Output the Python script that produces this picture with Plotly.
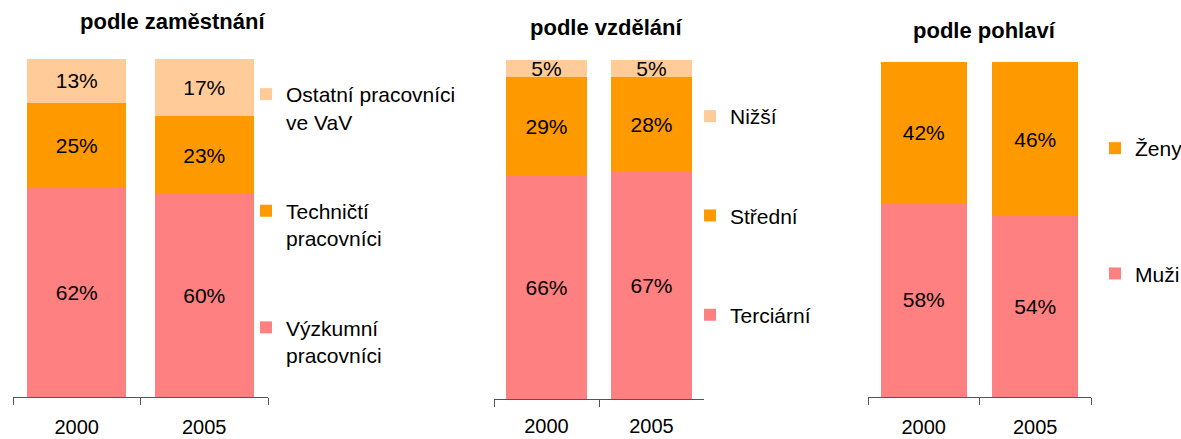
import plotly.graph_objects as go

years = ["2000", "2005"]

# panel 1: podle zaměstnání
zam_names = ["Výzkumní<br>pracovníci", "Techničtí<br>pracovníci", "Ostatní pracovníci<br>ve VaV"]
zam_vyzkumni = [62, 60]
zam_technicti = [25, 23]
zam_ostatni = [13, 17]

# panel 2: podle vzdělání
vzd_names = ["Terciární", "Střední", "Nižší"]
vzd_terciarni = [66, 67]
vzd_stredni = [29, 28]
vzd_nizsi = [5, 5]

# panel 3: podle pohlaví
poh_names = ["Muži", "Ženy"]
poh_muzi = [58, 54]
poh_zeny = [42, 46]

titles = ["podle zaměstnání", "podle vzdělání", "podle pohlaví"]

c_pink = "#FF8080"
c_orange = "#FF9900"
c_peach = "#FFCC99"

W, H = 1181, 439
FONT = "Liberation Sans, Arial, sans-serif"

def px_x(p):
    return p / W

def px_y(p):
    return (H - p) / H

fig = go.Figure()

panels = [
    dict(xa="x", ya="y", leg="legend", width=0.78,
         series=[(zam_names[0], zam_vyzkumni, c_pink),
                 (zam_names[1], zam_technicti, c_orange),
                 (zam_names[2], zam_ostatni, c_peach)]),
    dict(xa="x2", ya="y2", leg="legend2", width=0.77,
         series=[(vzd_names[0], vzd_terciarni, c_pink),
                 (vzd_names[1], vzd_stredni, c_orange),
                 (vzd_names[2], vzd_nizsi, c_peach)]),
    dict(xa="x3", ya="y3", leg="legend3", width=0.77,
         series=[(poh_names[0], poh_muzi, c_pink),
                 (poh_names[1], poh_zeny, c_orange)]),
]

for pi, p in enumerate(panels):
    n = len(p["series"])
    for si, (name, vals, col) in enumerate(p["series"]):
        fig.add_trace(go.Bar(
            x=years, y=vals, name=name, marker_color=col, marker_line_width=0,
            width=p["width"], xaxis=p["xa"], yaxis=p["ya"], legend=p["leg"],
            legendgroup=f"g{pi}_{si}", legendrank=1000 + (n - si),
            text=[f"{v}%" for v in vals], textposition="inside",
            insidetextanchor="middle", textangle=0,
            textfont=dict(color="black", size=21, family=FONT),
            hoverinfo="skip",
        ))

axis_common = dict(
    type="category", showline=True, linecolor="#555555", linewidth=1,
    ticks="outside", tickson="boundaries", ticklen=7, tickcolor="#555555",
    tickfont=dict(size=20, color="black", family=FONT), showgrid=False,
    zeroline=False, fixedrange=True, ticklabelstandoff=12,
)
yaxis_common = dict(range=[0, 100], visible=False, showgrid=False, fixedrange=True)

legend_common = dict(xanchor="left", yanchor="top", traceorder="grouped", valign="top",
                     font=dict(size=21, family=FONT), bgcolor="rgba(0,0,0,0)")

layout = dict(
    width=W, height=H, barmode="stack", plot_bgcolor="white", paper_bgcolor="white",
    margin=dict(l=0, r=0, t=0, b=0, autoexpand=False),
    uniformtext=dict(minsize=21, mode="show"),
    font=dict(family=FONT, color="black", size=20),
    xaxis=dict(axis_common, domain=[px_x(13), px_x(268)], anchor="y"),
    yaxis=dict(yaxis_common, domain=[px_y(397), px_y(59)], anchor="x"),
    xaxis2=dict(axis_common, domain=[px_x(494), px_x(704)], anchor="y2", ticklabelstandoff=9),
    yaxis2=dict(yaxis_common, domain=[px_y(399), px_y(60)], anchor="x2"),
    xaxis3=dict(axis_common, domain=[px_x(868), px_x(1091)], anchor="y3"),
    yaxis3=dict(yaxis_common, domain=[px_y(397), px_y(62)], anchor="x3"),
    legend=dict(legend_common, x=px_x(246), y=px_y(74), tracegroupgap=59),
    legend2=dict(legend_common, x=px_x(690), y=px_y(96), tracegroupgap=69),
    legend3=dict(legend_common, x=px_x(1095), y=px_y(128), tracegroupgap=95),
    showlegend=True,
)
fig.update_layout(**layout)

title_pos = [(172, 22), (606, 27), (984, 30)]
for t, (tx, ty) in zip(titles, title_pos):
    fig.add_annotation(text=f"<b>{t}</b>", x=px_x(tx), y=px_y(ty), xref="paper", yref="paper",
                       xanchor="center", yanchor="middle", showarrow=False,
                       font=dict(size=22, family=FONT, color="black"))

fig.write_html("out.html", config={"displayModeBar": False},
               post_script="document.body.style.margin='0';document.body.style.overflow='hidden';")
